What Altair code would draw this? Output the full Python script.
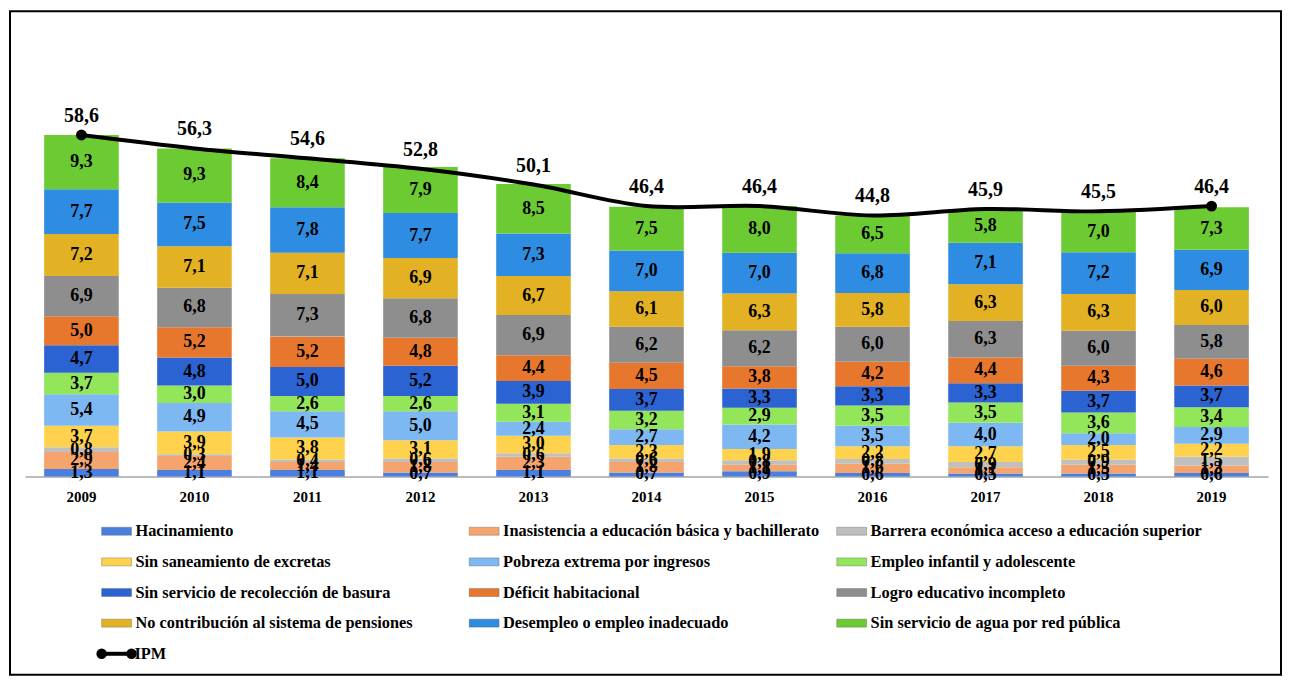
import altair as alt
import pandas as pd

years = ["2009", "2010", "2011", "2012", "2013", "2014", "2015", "2016", "2017", "2018", "2019"]

series = [
    "Hacinamiento",
    "Inasistencia a educación básica y bachillerato",
    "Barrera económica acceso a educación superior",
    "Sin saneamiento de excretas",
    "Pobreza extrema por ingresos",
    "Empleo infantil y adolescente",
    "Sin servicio de recolección de basura",
    "Déficit habitacional",
    "Logro educativo incompleto",
    "No contribución al sistema de pensiones",
    "Desempleo o empleo inadecuado",
    "Sin servicio de agua por red pública",
]
colors = ["#4a7fe0", "#f5a46e", "#bfbfbf", "#ffd24d", "#7db8f2", "#93e65a",
          "#2c63d2", "#e8772e", "#8e8e8e", "#e3b224", "#2e8de2", "#6ccb32"]

hacinamiento = [1.3, 1.1, 1.1, 0.7, 1.1, 0.7, 0.9, 0.6, 0.5, 0.5, 0.6]
inasistencia = [2.9, 2.4, 1.4, 1.8, 2.3, 1.8, 1.1, 1.6, 1.1, 1.5, 1.3]
barrera = [0.8, 0.3, 0.4, 0.6, 0.6, 0.6, 0.8, 0.8, 0.9, 0.9, 1.5]
saneamiento = [3.7, 3.9, 3.8, 3.1, 3.0, 2.3, 1.9, 2.2, 2.7, 2.5, 2.2]
pobreza = [5.4, 4.9, 4.5, 5.0, 2.4, 2.7, 4.2, 3.5, 4.0, 2.0, 2.9]
empleo_infantil = [3.7, 3.0, 2.6, 2.6, 3.1, 3.2, 2.9, 3.5, 3.5, 3.6, 3.4]
basura = [4.7, 4.8, 5.0, 5.2, 3.9, 3.7, 3.3, 3.3, 3.3, 3.7, 3.7]
deficit = [5.0, 5.2, 5.2, 4.8, 4.4, 4.5, 3.8, 4.2, 4.4, 4.3, 4.6]
logro = [6.9, 6.8, 7.3, 6.8, 6.9, 6.2, 6.2, 6.0, 6.3, 6.0, 5.8]
pensiones = [7.2, 7.1, 7.1, 6.9, 6.7, 6.1, 6.3, 5.8, 6.3, 6.3, 6.0]
desempleo = [7.7, 7.5, 7.8, 7.7, 7.3, 7.0, 7.0, 6.8, 7.1, 7.2, 6.9]
agua = [9.3, 9.3, 8.4, 7.9, 8.5, 7.5, 8.0, 6.5, 5.8, 7.0, 7.3]
ipm = [58.6, 56.3, 54.6, 52.8, 50.1, 46.4, 46.4, 44.8, 45.9, 45.5, 46.4]

values = [hacinamiento, inasistencia, barrera, saneamiento, pobreza, empleo_infantil,
          basura, deficit, logro, pensiones, desempleo, agua]

rows = []
for i, (name, vals) in enumerate(zip(series, values)):
    for y, v in zip(years, vals):
        rows.append({"year": y, "serie": name, "idx": i, "value": v})
df = pd.DataFrame(rows)
df_ipm = pd.DataFrame({"year": years, "ipm": ipm})
df_ends = df_ipm[df_ipm["year"].isin([years[0], years[-1]])]

legend_df = pd.DataFrame({
    "serie": series,
    "col": [i % 3 for i in range(len(series))],
    "row": [i // 3 for i in range(len(series))],
})
legend_ipm = pd.DataFrame({"label": ["IPM"], "col": [0], "row": [4]})

FONT = "'Liberation Serif', 'Times New Roman', 'DejaVu Serif', serif"
W, H = 1276, 666
BASE = 467
PX = 5.85

xs = alt.Scale(domain=years, range=[15, 1263], paddingInner=0.34, paddingOuter=0.17)
ys = alt.Scale(domain=[0, BASE / PX], range=[BASE, 0], nice=False, zero=False)
xaxis = alt.Axis(title=None, orient="bottom", offset=BASE - H, domainColor="#a6a6a6",
                 domainWidth=1.5, ticks=False, grid=False, labelAngle=0,
                 labelFont=FONT, labelFontWeight="bold", labelFontSize=15,
                 labelColor="black", labelPadding=13)

X = alt.X("year:N", scale=xs, axis=xaxis, sort=years)
color = alt.Color("serie:N", scale=alt.Scale(domain=series, range=colors), legend=None)

bars = alt.Chart(df).mark_bar().encode(
    x=X,
    y=alt.Y("value:Q", scale=ys, axis=None, stack="zero"),
    color=color,
    order=alt.Order("idx:Q", sort="ascending"),
)

seg_labels = alt.Chart(df).transform_stack(
    stack="value", groupby=["year"], as_=["y0", "y1"],
    sort=[alt.SortField("idx", order="ascending")],
).transform_calculate(
    mid="(datum.y0 + datum.y1) / 2",
    lbl="replace(format(datum.value, '.1f'), '.', ',')",
).mark_text(font=FONT, fontSize=18, fontWeight="bold", color="black", baseline="middle").encode(
    x=X,
    y=alt.Y("mid:Q", scale=ys, axis=None),
    text="lbl:N",
)

line = alt.Chart(df_ipm).mark_line(color="black", strokeWidth=4, interpolate="catmull-rom").encode(
    x=X, y=alt.Y("ipm:Q", scale=ys, axis=None)
)
ends = alt.Chart(df_ends).mark_circle(color="black", size=120, opacity=1).encode(
    x=X, y=alt.Y("ipm:Q", scale=ys, axis=None)
)
ipm_labels = alt.Chart(df_ipm).transform_calculate(
    lbl="replace(format(datum.ipm, '.1f'), '.', ',')"
).mark_text(font=FONT, fontSize=20, fontWeight="bold", color="black", dy=-19, baseline="middle").encode(
    x=X, y=alt.Y("ipm:Q", scale=ys, axis=None), text="lbl:N"
)

main = alt.layer(bars, seg_labels, line, ends, ipm_labels)

lx = alt.Scale(domain=[0, 2], range=[107, 845])
ly = alt.Scale(domain=[0, 4], range=[522, 645])

swatches = alt.Chart(legend_df).mark_rect(
    xOffset=-15, x2Offset=15, yOffset=-4, y2Offset=4,
    stroke="#555555", strokeOpacity=0.35, strokeWidth=1,
).encode(
    x=alt.X("col:Q", scale=lx, axis=None),
    x2=alt.X2("col"),
    y=alt.Y("row:Q", scale=ly, axis=None),
    y2=alt.Y2("row"),
    color=color,
)
leg_text = alt.Chart(legend_df).mark_text(
    font=FONT, fontSize=16.4, fontWeight="bold", color="black", align="left", baseline="middle", dx=19
).encode(
    x=alt.X("col:Q", scale=lx, axis=None),
    y=alt.Y("row:Q", scale=ly, axis=None),
    text="serie:N",
)
ipm_rule = alt.Chart(legend_ipm).mark_rule(color="black", strokeWidth=4, xOffset=-15, x2Offset=15).encode(
    x=alt.X("col:Q", scale=lx, axis=None),
    x2=alt.X2("col"),
    y=alt.Y("row:Q", scale=ly, axis=None),
)
ipm_dot_l = alt.Chart(legend_ipm).mark_circle(color="black", size=110, opacity=1, xOffset=-15).encode(
    x=alt.X("col:Q", scale=lx, axis=None),
    y=alt.Y("row:Q", scale=ly, axis=None),
)
ipm_dot_r = alt.Chart(legend_ipm).mark_circle(color="black", size=110, opacity=1, xOffset=15).encode(
    x=alt.X("col:Q", scale=lx, axis=None),
    y=alt.Y("row:Q", scale=ly, axis=None),
)
ipm_text = alt.Chart(legend_ipm).mark_text(
    font=FONT, fontSize=16.4, fontWeight="bold", color="black", align="left", baseline="middle", dx=18
).encode(
    x=alt.X("col:Q", scale=lx, axis=None),
    y=alt.Y("row:Q", scale=ly, axis=None),
    text="label:N",
)

legend = alt.layer(swatches, leg_text, ipm_rule, ipm_dot_l, ipm_dot_r, ipm_text)

chart = alt.layer(main, legend).resolve_scale(
    x="independent", y="independent", color="shared"
).properties(
    width=W, height=H, padding=2, autosize=alt.AutoSizeParams(type="none")
).configure_view(stroke="black", strokeWidth=2)

chart.save("out.html", embed_options={"renderer": "svg", "actions": False})
